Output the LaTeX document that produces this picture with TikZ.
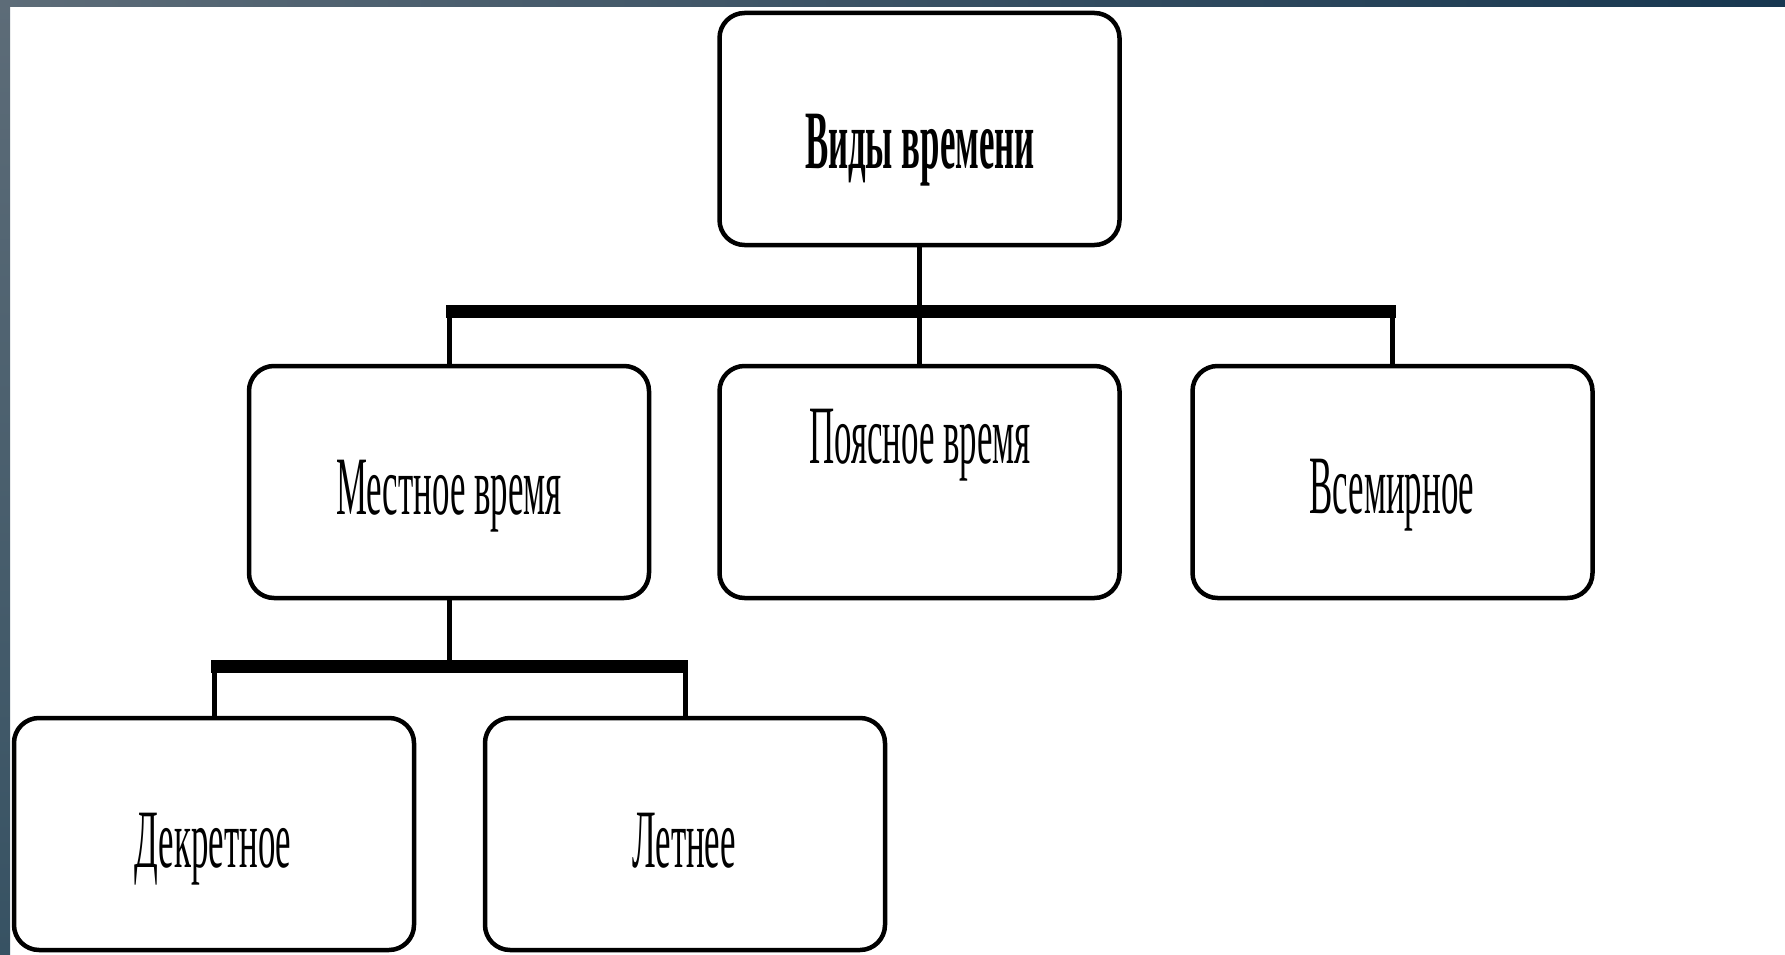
\documentclass[tikz,border=0pt]{standalone}
\usepackage{fontspec}
\usepackage{graphicx}
\setmainfont{Liberation Serif}
\newcommand{\hsq}[1]{\scalebox{0.42}[1]{#1}}
\definecolor{stripL}{RGB}{93,108,120}
\definecolor{stripR}{RGB}{23,55,80}
\definecolor{stripB}{RGB}{55,82,99}
\tikzset{
  box/.style={draw=black, line width=4.5pt, rounded corners=25pt, fill=white,
              minimum width=400pt, minimum height=232pt, inner sep=0pt},
  txt/.style={anchor=base, inner sep=0pt, font=\fontsize{83}{90}\selectfont},
  conn/.style={draw=black, line width=5pt},
  bar/.style={draw=black, line width=13pt}
}
\begin{document}
\begin{tikzpicture}[x=1pt, y=-1pt]
\useasboundingbox (0,0) rectangle (1785,955);
\fill[white] (0,0) rectangle (1785,955);
\shade[left color=stripL, right color=stripR] (0,0) rectangle (1785,7);
\shade[top color=stripL, bottom color=stripB] (0,0) rectangle (10,955);

% boxes
\node[box] (top) at (919.5,129) {};
\node[box] (mest) at (449,482) {};
\node[box] (poyas) at (919.5,482) {};
\node[box] (vsem) at (1392.5,482) {};
\node[box] (dekr) at (214,834) {};
\node[box] (leto) at (685,834) {};

% bus coordinates
\coordinate (b1) at (920,311);
\coordinate (b2) at (450,666);

% upper tree
\draw[conn] (top.south) -- (top.south |- b1);
\draw[bar] ([xshift=-3pt]mest.north |- b1) -- ([xshift=3pt]vsem.north |- b1);
\draw[conn] (mest.north |- b1) -- (mest.north);
\draw[conn] (poyas.north |- b1) -- (poyas.north);
\draw[conn] (vsem.north |- b1) -- (vsem.north);

% lower tree
\draw[conn] (mest.south) -- (mest.south |- b2);
\draw[bar] ([xshift=-3pt]dekr.north |- b2) -- ([xshift=3pt]leto.north |- b2);
\draw[conn] (dekr.north |- b2) -- (dekr.north);
\draw[conn] (leto.north |- b2) -- (leto.north);

% texts
\node[txt, font=\fontsize{83}{90}\selectfont\bfseries] (ttop) at (920,168) {\hsq{Виды времени}};
\node[txt] (tmest) at (449,514) {\hsq{Местное время}};
\node[txt] (tpoyas) at (920,463) {\hsq{Поясное время}};
\node[txt] (tvsem) at (1392,513) {\hsq{Всемирное}};
\node[txt] (tdekr) at (213,867) {\hsq{Декретное}};
\node[txt] (tleto) at (684,867) {\hsq{Летнее}};
\end{tikzpicture}
\end{document}
